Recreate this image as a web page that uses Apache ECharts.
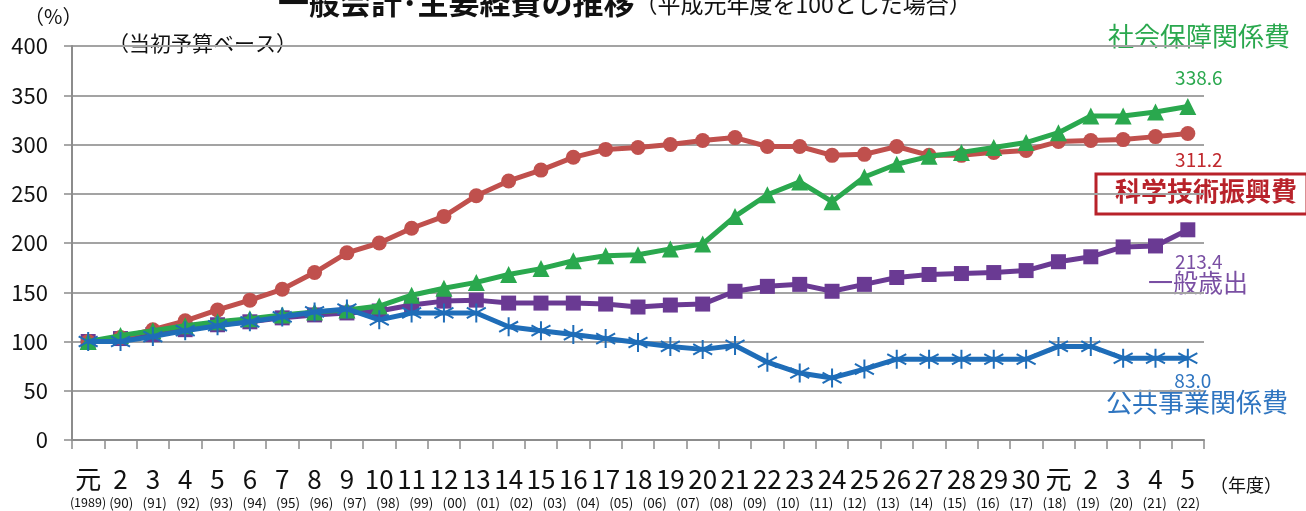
<!DOCTYPE html>
<html>
<head>
<meta charset="utf-8">
<title>一般会計・主要経費の推移</title>
<script src="https://cdn.jsdelivr.net/npm/echarts@6/dist/echarts.min.js"></script>
<style>
  html, body { margin: 0; padding: 0; background: #ffffff; }
  #chart { width: 1306px; height: 511px; }
</style>
</head>
<body>
<div id="chart"></div>
<script>
// 年度（平成元年度 ～ 令和5年度）
const fiscalYears = ['元','2','3','4','5','6','7','8','9','10','11','12','13','14','15','16','17','18','19','20','21','22','23','24','25','26','27','28','29','30','元','2','3','4','5'];
// 西暦の注記（下段の小さな行）
const westernYears = ['(1989)','(90)','(91)','(92)','(93)','(94)','(95)','(96)','(97)','(98)','(99)','(00)','(01)','(02)','(03)','(04)','(05)','(06)','(07)','(08)','(09)','(10)','(11)','(12)','(13)','(14)','(15)','(16)','(17)','(18)','(19)','(20)','(21)','(22)'];

// 平成元年度を100とした指数（当初予算ベース）
const scienceTech = [100,104,112,121,132,142,153,170,190,200,215,227,248,263,274,287,295,297,300,304,307,298,298,289,290,298,289,289,292,294,303,304,305,308,311.2];
const socialSecurity = [100,106,111,116,120,123,127,130,132,136,147,154,160,168,174,182,187,188,194,199,227,249,262,242,267,280,288,292,297,302,312,329,329,333,338.6];
const generalExpenditure = [100,103,107,112,117,120,124,127,129,131,137,141,142,139,139,139,138,135,137,138,151,156,158,151,158,165,168,169,170,172,181,186,196,197,213.4];
const publicWorks = [100,100,105,111,116,120,125,130,133,122,129,129,129,115,111,107,103,99,95,92,96,79,68,63,72,82,82,82,82,82,95,95,83,83,83.0];

const yTicks = [0, 50, 100, 150, 200, 250, 300, 350, 400];

const FONT = '"Noto Sans CJK JP", "Noto Sans", sans-serif';

const C_RED = '#c0504d';
const C_GREEN = '#2aa84e';
const C_PURPLE = '#6a3a93';
const C_BLUE = '#1f6db8';

// 最終年度の点だけに値ラベルを付ける
function withEndLabel(values, color, position, offset) {
  return values.map((v, i) => {
    if (i !== values.length - 1) return v;
    return {
      value: v,
      label: {
        show: true,
        position: position,
        offset: offset,
        color: color,
        fontFamily: FONT,
        fontSize: 19,
        formatter: (p) => Number(p.value).toFixed(1)
      }
    };
  });
}

// 公共事業関係費のアスタリスク型マーカー
const asterisk = 'path://M10,0L10,20M1.5,4.5L18.5,15.5M1.5,15.5L18.5,4.5';

const chart = echarts.init(document.getElementById('chart'));

chart.setOption({
  animation: false,
  backgroundColor: '#ffffff',
  grid: [
    { left: 72, right: 102, top: 46, bottom: 71 },
    // 西暦注記の行（両端の年度位置に合わせて均等配置）
    { left: 88, right: 118, top: 46, bottom: 71 }
  ],
  xAxis: [
    {
      type: 'category',
      gridIndex: 0,
      boundaryGap: true,
      data: fiscalYears.map((_, i) => String(i)),
      axisLine: { show: true, lineStyle: { color: '#8c8c8c', width: 2 } },
      axisTick: { show: true, length: 9, lineStyle: { color: '#8c8c8c', width: 1.5 } },
      axisLabel: {
        interval: 0,
        margin: 26,
        fontFamily: FONT,
        fontSize: 26,
        color: '#111111',
        formatter: (v, i) => fiscalYears[i]
      },
      splitLine: { show: false }
    },
    {
      type: 'category',
      gridIndex: 1,
      boundaryGap: false,
      data: westernYears,
      axisLine: { show: false },
      axisTick: { show: false },
      axisLabel: {
        interval: 0,
        margin: 56,
        fontFamily: FONT,
        fontSize: 13.5,
        color: '#111111',
        formatter: (v, i) => (i === 0 ? '{r|' + v + '}' : v),
        rich: { r: { fontFamily: FONT, fontSize: 12.5, color: '#111111', padding: [0, 0, 6, 0] } }
      },
      splitLine: { show: false }
    }
  ],
  yAxis: [
    {
      type: 'value',
      gridIndex: 0,
      min: yTicks[0],
      max: yTicks[yTicks.length - 1],
      interval: 50,
      axisLine: { show: true, lineStyle: { color: '#8c8c8c', width: 2 } },
      axisTick: { show: true, length: 8, lineStyle: { color: '#8c8c8c', width: 1.5 } },
      axisLabel: { fontFamily: FONT, fontSize: 22, color: '#111111', margin: 24 },
      splitLine: { show: true, lineStyle: { color: '#a3a3a3', width: 2 } }
    },
    { type: 'value', gridIndex: 1, show: false, min: 0, max: 1 }
  ],
  series: [
    {
      name: '一般歳出',
      type: 'line',
      data: withEndLabel(generalExpenditure, '#7a4fa3', 'bottom', [11, 10]),
      symbol: 'rect',
      symbolSize: 15,
      lineStyle: { color: C_PURPLE, width: 5 },
      itemStyle: { color: C_PURPLE },
      z: 2
    },
    {
      name: '科学技術振興費',
      type: 'line',
      data: withEndLabel(scienceTech, '#c0282d', 'bottom', [11, 4]),
      symbol: 'circle',
      symbolSize: 15,
      lineStyle: { color: C_RED, width: 5 },
      itemStyle: { color: C_RED },
      z: 3
    },
    {
      name: '社会保障関係費',
      type: 'line',
      data: withEndLabel(socialSecurity, C_GREEN, 'top', [11, -6]),
      symbol: 'triangle',
      symbolSize: 17,
      lineStyle: { color: C_GREEN, width: 5 },
      itemStyle: { color: C_GREEN },
      z: 4
    },
    {
      name: '公共事業関係費',
      type: 'line',
      data: withEndLabel(publicWorks, '#2f75c0', 'bottom', [5, -2]),
      symbol: asterisk,
      symbolSize: 19,
      lineStyle: { color: C_BLUE, width: 5 },
      itemStyle: { color: 'rgba(0,0,0,0)', borderColor: C_BLUE, borderWidth: 2 },
      z: 5
    }
  ],
  graphic: [
    {
      type: 'text',
      left: 278, top: -13,
      style: {
        text: '{t|一般会計･主要経費の推移}{s|（平成元年度を100とした場合）}',
        rich: {
          t: { fontFamily: FONT, fontSize: 31, fontWeight: 'bold', fill: '#111111', lineHeight: 34 },
          s: { fontFamily: FONT, fontSize: 23, fill: '#111111', lineHeight: 34, padding: [4, 0, 0, 0] }
        }
      }
    },
    { type: 'text', left: 24, top: 6, style: { text: '（%）', fontFamily: FONT, fontSize: 20, fill: '#111111' } },
    { type: 'text', left: 108, top: 33, style: { text: '（当初予算ベース）', fontFamily: FONT, fontSize: 21, fill: '#111111' } },
    { type: 'text', left: 1210, top: 476, style: { text: '（年度）', fontFamily: FONT, fontSize: 18, fill: '#111111' } },
    { type: 'text', left: 1108, top: 23, style: { text: '社会保障関係費', fontFamily: FONT, fontSize: 26, fill: C_GREEN } },
    {
      type: 'rect',
      shape: { x: 1096, y: 174, width: 211, height: 40 },
      style: { fill: '#ffffff', stroke: '#b8222a', lineWidth: 3 }
    },
    { type: 'text', left: 1115, top: 178, style: { text: '科学技術振興費', fontFamily: FONT, fontSize: 26, fontWeight: 'bold', fill: '#b8222a' } },
    { type: 'text', left: 1148, top: 270, style: { text: '一般歳出', fontFamily: FONT, fontSize: 25, fill: '#7a4fa3' } },
    { type: 'text', left: 1106, top: 389, style: { text: '公共事業関係費', fontFamily: FONT, fontSize: 26, fill: '#2f75c0' } }
  ]
});
</script>
</body>
</html>
